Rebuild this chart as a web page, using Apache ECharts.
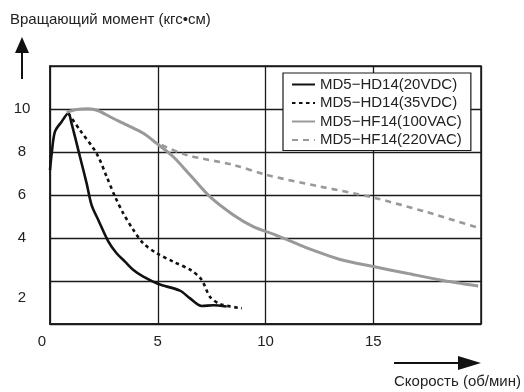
<!DOCTYPE html>
<html><head><meta charset="utf-8">
<script src="https://cdn.jsdelivr.net/npm/echarts@6/dist/echarts.min.js"></script>
<style>html,body{margin:0;padding:0;background:#fff}#c{width:524px;height:392px}</style>
</head><body><div id="c"></div>
<script>
const seriesNames = ['MD5−HD14(20VDC)', 'MD5−HD14(35VDC)', 'MD5−HF14(100VAC)', 'MD5−HF14(220VAC)'];
const xTicks = [0, 5, 10, 15];
const yTicks = [2, 4, 6, 8, 10];

const hd20X = [0, 0.08, 0.23, 0.54, 0.85, 1.0, 1.39, 1.70, 1.93, 2.24, 2.71, 3.09, 3.48, 3.87, 4.33, 5.03, 6.03, 6.50, 7.04, 7.58, 8.2];
const hd20Y = [7.16, 7.94, 8.95, 9.41, 9.80, 9.33, 7.78, 6.54, 5.53, 4.84, 3.83, 3.29, 2.90, 2.51, 2.20, 1.86, 1.55, 1.19, 0.84, 0.87, 0.81];

const hd35X = [0.85, 1.39, 2.16, 2.63, 3.02, 3.40, 3.87, 4.33, 4.95, 5.72, 6.57, 7.04, 7.42, 7.89, 8.9];
const hd35Y = [9.80, 9.02, 7.94, 6.85, 5.92, 5.15, 4.37, 3.75, 3.29, 2.90, 2.48, 2.05, 1.27, 0.93, 0.73];

const hf100X = [0.77, 1.24, 1.78, 2.24, 2.78, 3.56, 4.33, 4.95, 5.72, 6.50, 7.42, 8.51, 9.43, 10.4, 11.2, 11.91, 13.46, 15.0, 16.55, 18.1, 19.87];
const hf100Y = [9.85, 9.98, 10.01, 9.92, 9.64, 9.26, 8.87, 8.40, 7.78, 6.93, 5.92, 5.07, 4.53, 4.17, 3.84, 3.54, 3.00, 2.67, 2.36, 2.05, 1.77];

const hf220X = [5.18, 6.33, 8.51, 10.06, 12.5, 15.0, 17.5, 19.9];
const hf220Y = [8.33, 7.86, 7.40, 6.93, 6.40, 5.88, 5.20, 4.47];

const yTitle = 'Вращающий момент (кгс•см)';
const xTitle = 'Скорость (об/мин)';

const zip = (xs, ys) => xs.map((x, i) => [x, ys[i]]);
const FONT = '"Liberation Sans", Arial, sans-serif';
const TXT = '#222';

const chart = echarts.init(document.getElementById('c'));
chart.setOption({
  animation: false,
  backgroundColor: '#fff',
  textStyle: { fontFamily: FONT },
  grid: { left: 50, top: 66, right: 43, bottom: 68, show: true, borderColor: '#1a1a1a', borderWidth: 1.5, containLabel: false },
  legend: {
    orient: 'vertical', left: 283, top: 73,
    padding: [4, 9, 3, 8], itemGap: 3.5, itemWidth: 23, itemHeight: 14,
    backgroundColor: '#fff', borderColor: '#1a1a1a', borderWidth: 1.2, borderRadius: 0,
    itemStyle: { opacity: 0 },
    textStyle: { fontSize: 15, color: TXT, fontFamily: FONT },
    data: seriesNames
  },
  xAxis: {
    type: 'value', min: 0, max: 20, interval: 5,
    axisLine: { show: true, lineStyle: { color: '#1a1a1a', width: 1.5 } },
    axisTick: { show: false },
    splitLine: { show: true, lineStyle: { color: '#1a1a1a', width: 1.3 } },
    axisLabel: {
      margin: 10, fontSize: 15, color: TXT,
      formatter: v => xTicks.includes(v) ? (v === 0 ? '{z|0}' : String(v)) : '',
      rich: { z: { fontSize: 15, color: TXT, padding: [0, 16, 0, 0] } }
    }
  },
  yAxis: {
    type: 'value', min: 0, max: 12, interval: 2,
    axisLine: { show: true, lineStyle: { color: '#1a1a1a', width: 1.5 } },
    axisTick: { show: false },
    splitLine: { show: true, lineStyle: { color: '#1a1a1a', width: 1.3 } },
    axisLabel: {
      margin: 28, align: 'center', fontSize: 15, color: TXT,
      formatter: v => yTicks.includes(v) ? (v === 2 ? '{t|2}' : String(v)) : '',
      rich: { t: { fontSize: 15, color: TXT, padding: [34, 0, 0, 0] } }
    }
  },
  series: [
    { name: seriesNames[0], type: 'line', smooth: 0.3, symbol: 'none', data: zip(hd20X, hd20Y),
      lineStyle: { color: '#111', width: 2.6, type: 'solid' }, itemStyle: { color: '#111' } },
    { name: seriesNames[1], type: 'line', smooth: 0.3, symbol: 'none', data: zip(hd35X, hd35Y),
      lineStyle: { color: '#111', width: 2.6, type: [3.5, 3.5] }, itemStyle: { color: '#111' } },
    { name: seriesNames[2], type: 'line', smooth: 0.3, symbol: 'none', data: zip(hf100X, hf100Y),
      lineStyle: { color: '#999', width: 3, type: 'solid' }, itemStyle: { color: '#999' } },
    { name: seriesNames[3], type: 'line', smooth: 0.3, symbol: 'none', data: zip(hf220X, hf220Y),
      lineStyle: { color: '#999', width: 2.6, type: [6, 5] }, itemStyle: { color: '#999' } }
  ],
  graphic: [
    { type: 'text', left: 10, top: 12, style: { text: yTitle, fontSize: 15, fill: TXT, fontFamily: FONT } },
    { type: 'line', shape: { x1: 22, y1: 50, x2: 22, y2: 79 }, style: { stroke: '#111', lineWidth: 2 } },
    { type: 'polygon', shape: { points: [[22, 37], [15, 53], [29, 53]] }, style: { fill: '#111' } },
    { type: 'line', shape: { x1: 394, y1: 363, x2: 462, y2: 363 }, style: { stroke: '#111', lineWidth: 2 } },
    { type: 'polygon', shape: { points: [[481, 363], [458, 356], [458, 370]] }, style: { fill: '#111' } },
    { type: 'text', right: 3, top: 374, style: { text: xTitle, fontSize: 15, fill: TXT, fontFamily: FONT } }
  ]
});
</script></body></html>
